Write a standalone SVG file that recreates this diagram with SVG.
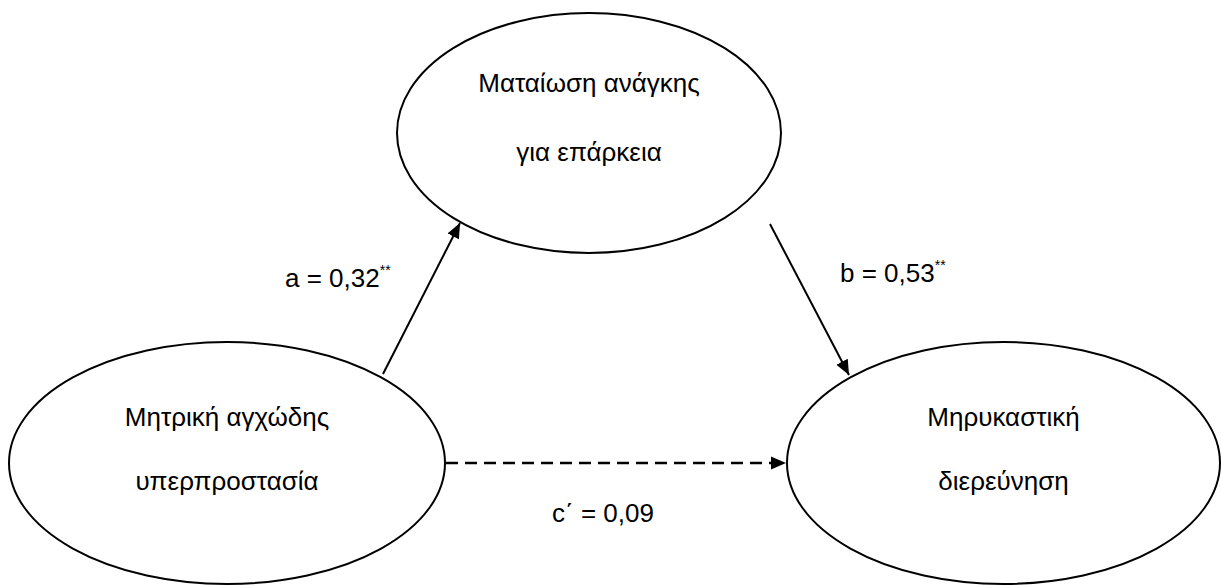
<svg xmlns="http://www.w3.org/2000/svg" width="1221" height="585" viewBox="0 0 1221 585">
<style>
.node{fill:#fff;stroke:#000;stroke-width:2}
.t{font-family:"Liberation Sans",Arial,sans-serif;font-size:26px;fill:#000;text-anchor:middle}
.lbl{font-family:"Liberation Sans",Arial,sans-serif;font-size:26px;fill:#000}
.sup{font-size:14px}
.edge{stroke:#000;stroke-width:2;fill:none}
.dash{stroke-width:2.5;stroke-dasharray:12,7}
</style>
<defs>
<marker id="ahb" viewBox="0 0 10 10" refX="10" refY="5" markerWidth="15" markerHeight="15" markerUnits="userSpaceOnUse" orient="auto"><path d="M0,0.7 L10,5 L0,9.3 z" fill="#000"/></marker>
</defs>
<rect width="1221" height="585" fill="#fff"/>
<g id="connectors">
<line class="edge" x1="383" y1="374" x2="460" y2="223" marker-end="url(#ahb)"/>
<line class="edge" x1="770" y1="224" x2="849" y2="375" marker-end="url(#ahb)"/>
<line class="edge dash" x1="446" y1="463" x2="786" y2="463" marker-end="url(#ahb)"/>
<text class="lbl" x="285" y="287">a = 0,32<tspan class="sup" dy="-12">**</tspan></text>
<text class="lbl" x="840" y="282">b = 0,53<tspan class="sup" dy="-12">**</tspan></text>
<text class="lbl" x="552" y="522">c΄ = 0,09</text>
</g>
<g id="node-top">
<ellipse class="node" cx="589" cy="133" rx="192" ry="120"/>
<text class="t" x="589" y="92">Ματαίωση ανάγκης</text>
<text class="t" x="589" y="161">για επάρκεια</text>
</g>
<g id="node-left">
<ellipse class="node" cx="227" cy="463" rx="218" ry="121"/>
<text class="t" x="227" y="426">Μητρική αγχώδης</text>
<text class="t" x="227" y="490">υπερπροστασία</text>
</g>
<g id="node-right">
<ellipse class="node" cx="1003.5" cy="463" rx="216.5" ry="121"/>
<text class="t" x="1003.5" y="426">Μηρυκαστική</text>
<text class="t" x="1003.5" y="490">διερεύνηση</text>
</g>
</svg>
